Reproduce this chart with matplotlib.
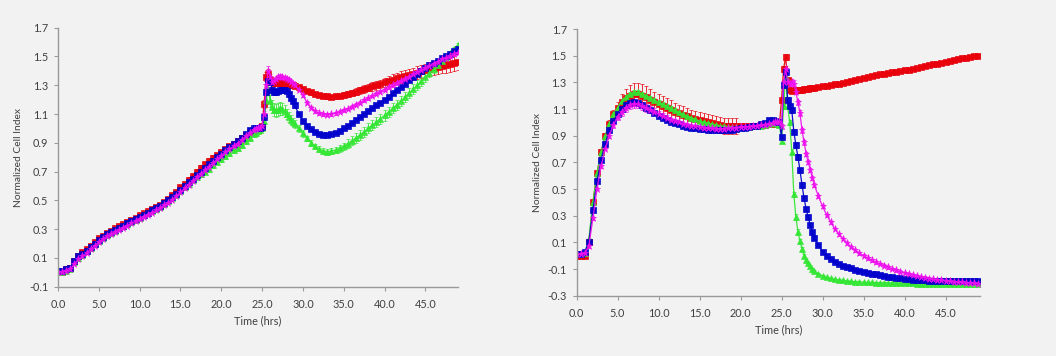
import numpy as np
import matplotlib
matplotlib.use("Agg")
import matplotlib.pyplot as plt
import matplotlib.ticker as ticker

plt.rcParams['font.family'] = ['Lato', 'DejaVu Sans']

# Sampling times (hrs): 0.5 h steps, 0.25 h around the compound addition
T = [0.0, 0.5, 1.0, 1.5, 2.0, 2.5, 3.0, 3.5, 4.0, 4.5,
     5.0, 5.5, 6.0, 6.5, 7.0, 7.5, 8.0, 8.5, 9.0, 9.5,
     10.0, 10.5, 11.0, 11.5, 12.0, 12.5, 13.0, 13.5, 14.0, 14.5,
     15.0, 15.5, 16.0, 16.5, 17.0, 17.5, 18.0, 18.5, 19.0, 19.5,
     20.0, 20.5, 21.0, 21.5, 22.0, 22.5, 23.0, 23.5, 24.0,
     24.25, 24.5, 24.75, 25.0, 25.25, 25.5, 25.75, 26.0, 26.25, 26.5,
     26.75, 27.0, 27.25, 27.5, 27.75, 28.0, 28.25, 28.5, 28.75, 29.0,
     29.5, 30.0, 30.5, 31.0, 31.5, 32.0, 32.5, 33.0, 33.5, 34.0, 34.5, 35.0,
     35.5, 36.0, 36.5, 37.0, 37.5, 38.0, 38.5, 39.0, 39.5, 40.0,
     40.5, 41.0, 41.5, 42.0, 42.5, 43.0, 43.5, 44.0, 44.5, 45.0,
     45.5, 46.0, 46.5, 47.0, 47.5, 48.0, 48.5, 49.0]

# ---- left panel ----
left_red = [0.0, 0.0, 0.02, 0.03, 0.08, 0.11, 0.14, 0.16, 0.185, 0.21,
            0.235, 0.255, 0.275, 0.29, 0.305, 0.32, 0.335, 0.35, 0.365, 0.38,
            0.395, 0.41, 0.425, 0.44, 0.455, 0.47, 0.49, 0.51, 0.535, 0.56,
            0.59, 0.615, 0.645, 0.67, 0.70, 0.725, 0.75, 0.775, 0.795, 0.815,
            0.835, 0.855, 0.875, 0.895, 0.915, 0.935, 0.955, 0.975, 0.99,
            0.99, 0.99, 1.0, 1.02, 1.17, 1.36, 1.38, 1.34, 1.32, 1.315,
            1.315, 1.315, 1.315, 1.315, 1.315, 1.31, 1.31, 1.305, 1.30, 1.295,
            1.285, 1.275, 1.26, 1.25, 1.24, 1.232, 1.226, 1.222, 1.22, 1.222, 1.226, 1.232,
            1.24, 1.248, 1.256, 1.265, 1.274, 1.283, 1.292, 1.30, 1.31, 1.32,
            1.33, 1.34, 1.348, 1.356, 1.364, 1.372, 1.38, 1.388, 1.396, 1.404,
            1.412, 1.42, 1.428, 1.436, 1.443, 1.45, 1.455, 1.46]
left_green = [0.0, 0.0, 0.01, 0.02, 0.07, 0.10, 0.12, 0.145, 0.17, 0.195,
              0.22, 0.24, 0.26, 0.275, 0.29, 0.305, 0.32, 0.335, 0.35, 0.365,
              0.38, 0.395, 0.41, 0.425, 0.44, 0.455, 0.475, 0.495, 0.515, 0.54,
              0.565, 0.59, 0.615, 0.64, 0.66, 0.68, 0.70, 0.72, 0.745, 0.77,
              0.79, 0.81, 0.83, 0.85, 0.865, 0.885, 0.91, 0.935, 0.96,
              0.97, 0.98, 0.99, 1.0, 1.05, 1.20, 1.27, 1.19, 1.15, 1.13,
              1.125, 1.13, 1.14, 1.135, 1.12, 1.10, 1.08, 1.06, 1.045, 1.03,
              1.0, 0.965, 0.93, 0.90, 0.875, 0.855, 0.842, 0.838, 0.842, 0.85, 0.862, 0.875,
              0.895, 0.915, 0.935, 0.955, 0.978, 1.0, 1.022, 1.045, 1.068, 1.09,
              1.115, 1.14, 1.165, 1.19, 1.218, 1.245, 1.272, 1.30, 1.328, 1.355,
              1.383, 1.41, 1.44, 1.47, 1.497, 1.525, 1.552, 1.58]
left_blue = [0.01, 0.01, 0.02, 0.03, 0.08, 0.11, 0.13, 0.15, 0.175, 0.20,
             0.225, 0.245, 0.265, 0.28, 0.295, 0.31, 0.325, 0.34, 0.355, 0.37,
             0.385, 0.40, 0.415, 0.43, 0.445, 0.46, 0.48, 0.50, 0.52, 0.545,
             0.57, 0.60, 0.625, 0.65, 0.675, 0.70, 0.725, 0.75, 0.775, 0.80,
             0.825, 0.85, 0.87, 0.89, 0.91, 0.935, 0.96, 0.99, 1.0,
             1.0, 1.0, 1.0, 1.01, 1.08, 1.25, 1.33, 1.32, 1.27, 1.25,
             1.25, 1.26, 1.265, 1.27, 1.27, 1.26, 1.24, 1.21, 1.19, 1.16,
             1.10, 1.05, 1.02, 0.995, 0.975, 0.962, 0.955, 0.955, 0.96, 0.97, 0.985, 1.0,
             1.02, 1.04, 1.06, 1.08, 1.10, 1.12, 1.14, 1.16, 1.18, 1.20,
             1.22, 1.245, 1.27, 1.29, 1.31, 1.335, 1.355, 1.38, 1.40, 1.42,
             1.44, 1.455, 1.47, 1.49, 1.505, 1.52, 1.535, 1.55]
left_magenta = [0.0, 0.0, 0.01, 0.02, 0.06, 0.09, 0.11, 0.135, 0.16, 0.185,
                0.21, 0.23, 0.25, 0.265, 0.28, 0.295, 0.31, 0.325, 0.34, 0.355,
                0.37, 0.385, 0.40, 0.415, 0.43, 0.445, 0.465, 0.485, 0.505, 0.53,
                0.555, 0.585, 0.61, 0.635, 0.66, 0.685, 0.71, 0.735, 0.76, 0.785,
                0.81, 0.835, 0.855, 0.875, 0.895, 0.92, 0.945, 0.97, 0.99,
                0.995, 1.0, 1.0, 1.02, 1.10, 1.30, 1.40, 1.36, 1.32, 1.33,
                1.345, 1.355, 1.36, 1.355, 1.35, 1.345, 1.335, 1.325, 1.31, 1.30,
                1.27, 1.23, 1.18, 1.145, 1.12, 1.105, 1.097, 1.095, 1.098, 1.105, 1.115, 1.125,
                1.135, 1.15, 1.165, 1.18, 1.195, 1.21, 1.225, 1.24, 1.255, 1.27,
                1.285, 1.30, 1.315, 1.33, 1.345, 1.36, 1.375, 1.39, 1.405, 1.42,
                1.435, 1.45, 1.465, 1.48, 1.49, 1.50, 1.515, 1.525]

left_red_err = [.01, .01, .01, .01, .01, .01, .01, .01, .01, .01,
                .01, .01, .01, .01, .01, .01, .01, .01, .01, .01,
                .01, .01, .01, .01, .01, .015, .015, .015, .015, .015,
                .015, .015, .015, .015, .015, .02, .02, .02, .02, .015,
                .01, .01, .01, .01, .01, .01, .01, .01, .01,
                .01, .01, .01, .01, .03, .03, .03, .02, .015, .015,
                .015, .015, .015, .015, .015, .015, .015, .015, .015, .015,
                .015, .015, .015, .015, .015, .015, .015, .015, .015, .015, .015, .02,
                .02, .02, .025, .025, .025, .025, .03, .03, .03, .03,
                .035, .035, .035, .04, .04, .04, .04, .045, .045, .045,
                .05, .05, .05, .05, .055, .055, .055, .055]
left_green_err = [.01, .01, .01, .01, .01, .01, .01, .01, .01, .01,
                  .01, .01, .01, .01, .01, .01, .01, .01, .01, .01,
                  .01, .01, .01, .01, .01, .01, .01, .01, .01, .01,
                  .01, .01, .01, .01, .01, .02, .02, .02, .02, .02,
                  .02, .02, .02, .02, .02, .02, .02, .02, .02,
                  .01, .01, .01, .01, .03, .03, .03, .04, .045, .045,
                  .045, .045, .045, .04, .04, .035, .035, .03, .03, .03,
                  .025, .025, .02, .02, .02, .02, .02, .02, .02, .02, .025, .025,
                  .03, .03, .035, .035, .035, .035, .035, .035, .035, .035,
                  .035, .035, .035, .035, .035, .035, .035, .035, .03, .03,
                  .025, .025, .02, .02, .015, .015, .015, .015]
left_blue_err = [.01, .01, .01, .01, .01, .01, .01, .01, .01, .01,
                 .01, .01, .01, .01, .01, .01, .01, .01, .01, .01,
                 .01, .01, .01, .01, .01, .01, .01, .01, .01, .01,
                 .01, .01, .01, .01, .01, .01, .01, .01, .01, .01,
                 .01, .01, .01, .01, .01, .01, .01, .01, .01,
                 .01, .01, .01, .01, .02, .02, .02, .02, .02, .015,
                 .015, .015, .015, .015, .015, .015, .015, .015, .015, .015,
                 .01, .01, .01, .01, .01, .01, .01, .01, .01, .01, .01, .01,
                 .01, .01, .01, .01, .01, .01, .01, .01, .01, .01,
                 .01, .01, .01, .01, .01, .01, .01, .01, .01, .01,
                 .01, .01, .01, .01, .01, .01, .01, .01]
left_magenta_err = [.01, .01, .01, .01, .01, .01, .01, .01, .01, .01,
                    .01, .01, .01, .01, .01, .01, .01, .01, .01, .01,
                    .01, .01, .01, .01, .01, .01, .01, .01, .01, .01,
                    .01, .01, .01, .01, .01, .01, .01, .01, .01, .01,
                    .01, .01, .01, .01, .01, .01, .01, .01, .01,
                    .01, .01, .01, .01, .02, .03, .035, .02, .02, .015,
                    .015, .015, .015, .015, .015, .015, .015, .015, .015, .015,
                    .01, .01, .01, .01, .01, .01, .01, .01, .01, .01, .01, .01,
                    .01, .01, .01, .01, .01, .01, .01, .01, .01, .01,
                    .01, .01, .01, .01, .01, .01, .01, .01, .01, .01,
                    .01, .01, .01, .01, .01, .01, .01, .01]

# ---- right panel ----
right_red = [0.0, 0.0, -0.005, 0.10, 0.40, 0.62, 0.78, 0.90, 0.99, 1.06,
             1.11, 1.15, 1.18, 1.20, 1.21, 1.21, 1.20, 1.19, 1.17, 1.155,
             1.14, 1.125, 1.11, 1.095, 1.08, 1.067, 1.055, 1.045, 1.035, 1.025,
             1.015, 1.007, 1.0, 0.992, 0.985, 0.98, 0.975, 0.975, 0.975, 0.975,
             0.97, 0.97, 0.97, 0.972, 0.975, 0.978, 0.98, 0.985, 0.99,
             0.99, 0.99, 0.99, 1.17, 1.40, 1.49, 1.32, 1.24, 1.235, 1.24,
             1.24, 1.242, 1.244, 1.246, 1.248, 1.25, 1.252, 1.255, 1.258, 1.26,
             1.265, 1.27, 1.275, 1.28, 1.285, 1.29, 1.297, 1.305, 1.312, 1.32, 1.327, 1.335,
             1.342, 1.35, 1.355, 1.36, 1.365, 1.37, 1.375, 1.38, 1.385, 1.39,
             1.395, 1.40, 1.408, 1.415, 1.422, 1.43, 1.435, 1.44, 1.448, 1.455,
             1.462, 1.47, 1.475, 1.48, 1.485, 1.49, 1.495, 1.50]
right_green = [0.01, 0.01, 0.02, 0.12, 0.40, 0.62, 0.78, 0.90, 0.99, 1.06,
               1.11, 1.16, 1.19, 1.215, 1.225, 1.225, 1.215, 1.20, 1.185, 1.165,
               1.15, 1.135, 1.12, 1.105, 1.09, 1.075, 1.06, 1.047, 1.035, 1.022,
               1.01, 1.002, 0.995, 0.987, 0.98, 0.975, 0.97, 0.967, 0.965, 0.963,
               0.963, 0.965, 0.967, 0.97, 0.972, 0.975, 0.98, 0.99, 0.995,
               0.995, 0.99, 0.98, 0.86, 1.12, 1.34, 1.12, 1.0, 0.78, 0.46,
               0.29, 0.18, 0.11, 0.05, 0.0, -0.03, -0.055, -0.08, -0.10, -0.115,
               -0.135, -0.152, -0.163, -0.171, -0.177, -0.182, -0.186, -0.19, -0.193, -0.195, -0.197, -0.199,
               -0.2, -0.201, -0.202, -0.203, -0.204, -0.205, -0.205, -0.206, -0.207, -0.207,
               -0.208, -0.208, -0.209, -0.209, -0.21, -0.21, -0.21, -0.211, -0.211, -0.211,
               -0.212, -0.212, -0.212, -0.213, -0.213, -0.213, -0.214, -0.214]
right_blue = [0.01, 0.01, 0.03, 0.10, 0.34, 0.56, 0.72, 0.84, 0.94, 1.01,
              1.06, 1.10, 1.13, 1.145, 1.15, 1.145, 1.13, 1.11, 1.09, 1.07,
              1.05, 1.035, 1.02, 1.005, 0.995, 0.985, 0.975, 0.967, 0.96, 0.955,
              0.95, 0.947, 0.945, 0.942, 0.94, 0.94, 0.94, 0.942, 0.945, 0.95,
              0.955, 0.96, 0.965, 0.97, 0.975, 0.985, 0.995, 1.02, 1.02,
              1.01, 1.005, 1.0, 0.89, 1.28, 1.38, 1.17, 1.12, 1.09, 0.93,
              0.83, 0.74, 0.64, 0.53, 0.43, 0.35, 0.29, 0.23, 0.175, 0.13,
              0.08, 0.03, 0.0, -0.025, -0.045, -0.06, -0.075, -0.085, -0.095, -0.105, -0.113, -0.12,
              -0.127, -0.134, -0.14, -0.146, -0.152, -0.158, -0.163, -0.167, -0.171, -0.174,
              -0.177, -0.18, -0.182, -0.184, -0.186, -0.187, -0.188, -0.189, -0.19, -0.19,
              -0.19, -0.191, -0.191, -0.192, -0.192, -0.192, -0.193, -0.193]
right_magenta = [0.01, 0.01, 0.02, 0.07, 0.28, 0.50, 0.67, 0.80, 0.90, 0.98,
                 1.04, 1.08, 1.11, 1.13, 1.14, 1.135, 1.125, 1.11, 1.095, 1.08,
                 1.065, 1.05, 1.035, 1.02, 1.01, 1.0, 0.99, 0.982, 0.975, 0.97,
                 0.965, 0.96, 0.957, 0.955, 0.953, 0.953, 0.953, 0.955, 0.957, 0.96,
                 0.962, 0.965, 0.968, 0.97, 0.973, 0.977, 0.98, 0.99, 0.995,
                 1.0, 1.0, 1.0, 0.97, 1.30, 1.40, 1.30, 1.29, 1.30, 1.29,
                 1.23, 1.15, 1.07, 0.94, 0.85, 0.765, 0.70, 0.645, 0.585, 0.53,
                 0.445, 0.37, 0.305, 0.25, 0.20, 0.16, 0.125, 0.092, 0.065, 0.04, 0.018, 0.0,
                 -0.02, -0.035, -0.05, -0.063, -0.076, -0.088, -0.1, -0.11, -0.12, -0.13,
                 -0.138, -0.146, -0.153, -0.16, -0.166, -0.172, -0.177, -0.182, -0.186, -0.19,
                 -0.193, -0.196, -0.199, -0.201, -0.203, -0.205, -0.207, -0.209]

right_red_err = [.01, .01, .01, .01, .01, .01, .02, .02, .03, .03,
                 .04, .06, .07, .08, .085, .085, .085, .08, .08, .075,
                 .075, .07, .07, .07, .065, .065, .065, .065, .06, .06,
                 .06, .06, .06, .06, .06, .06, .06, .06, .06, .06,
                 .01, .01, .01, .01, .01, .01, .01, .01, .01,
                 .01, .01, .01, .01, .02, .02, .02, .01, .01, .01,
                 .01, .01, .01, .01, .01, .01, .01, .01, .01, .01,
                 .01, .01, .01, .01, .01, .01, .01, .01, .01, .01, .01, .01,
                 .01, .01, .01, .01, .01, .01, .01, .01, .01, .01,
                 .01, .01, .01, .01, .01, .01, .01, .01, .01, .01,
                 .01, .01, .01, .01, .01, .01, .01, .01]
right_green_err = [.01, .01, .01, .01, .01, .01, .01, .01, .01, .01,
                   .015, .015, .015, .015, .015, .015, .015, .015, .015, .015,
                   .015, .015, .015, .015, .015, .01, .01, .01, .01, .01,
                   .01, .01, .01, .01, .01, .01, .01, .01, .01, .01,
                   .01, .01, .01, .01, .01, .01, .01, .01, .01,
                   .01, .01, .01, .015, .02, .02, .02, .02, .02, .02,
                   .02, .02, .015, .015, .01, .01, .01, .01, .01, .01,
                   .005, .005, .005, .005, .005, .005, .005, .005, .005, .005, .005, .005,
                   .005, .005, .005, .005, .005, .005, .005, .005, .005, .005,
                   .005, .005, .005, .005, .005, .005, .005, .005, .005, .005,
                   .005, .005, .005, .005, .005, .005, .005, .005]
right_blue_err = [.01, .01, .01, .01, .01, .01, .01, .01, .01, .01,
                  .01, .01, .01, .01, .01, .01, .01, .01, .01, .01,
                  .01, .01, .01, .01, .01, .01, .01, .01, .01, .01,
                  .01, .01, .01, .01, .01, .01, .01, .01, .01, .01,
                  .01, .01, .01, .01, .01, .01, .01, .01, .01,
                  .01, .01, .01, .015, .02, .02, .02, .02, .02, .02,
                  .02, .02, .02, .02, .02, .015, .015, .015, .015, .015,
                  .01, .01, .01, .01, .01, .01, .01, .01, .01, .01, .01, .01,
                  .01, .01, .01, .01, .01, .01, .01, .01, .01, .01,
                  .01, .01, .01, .01, .01, .01, .01, .01, .01, .01,
                  .01, .01, .01, .01, .01, .01, .01, .01]
right_magenta_err = [.01, .01, .01, .01, .01, .01, .01, .01, .02, .02,
                     .025, .03, .03, .03, .03, .03, .03, .03, .025, .025,
                     .02, .02, .02, .015, .015, .01, .01, .01, .01, .01,
                     .01, .01, .01, .01, .01, .01, .01, .01, .01, .01,
                     .01, .01, .01, .01, .01, .01, .01, .01, .01,
                     .01, .01, .01, .02, .02, .02, .025, .025, .025, .025,
                     .02, .02, .02, .02, .02, .015, .015, .015, .015, .015,
                     .01, .01, .01, .01, .01, .01, .01, .01, .01, .01, .01, .01,
                     .01, .01, .01, .01, .01, .01, .01, .01, .01, .01,
                     .01, .01, .01, .01, .01, .01, .01, .01, .01, .01,
                     .01, .01, .01, .01, .01, .01, .01, .01]

COLORS = {'red': '#e8000b', 'green': '#33e633', 'blue': '#0000cc', 'magenta': '#ee10ee'}
MARKERS = {'red': 's', 'green': '^', 'blue': 's', 'magenta': '*'}
TEXT = '#404040'
BG = '#f2f2f2'

left_series = [('red', left_red, left_red_err), ('green', left_green, left_green_err),
               ('blue', left_blue, left_blue_err), ('magenta', left_magenta, left_magenta_err)]
right_series = [('red', right_red, right_red_err), ('green', right_green, right_green_err),
                ('blue', right_blue, right_blue_err), ('magenta', right_magenta, right_magenta_err)]

for _, v, e in left_series + right_series:
    assert len(v) == len(T) and len(e) == len(T), (len(v), len(e))

fig = plt.figure(figsize=(10.56, 3.56), dpi=100, facecolor=BG)
W, H = 1056, 356

# axes placed in pixels
ax_l = fig.add_axes([58 / W, 1 - 286.7 / H, 400 / W, 259 / H])
ax_r = fig.add_axes([576.5 / W, 1 - 295.7 / H, 403.5 / W, 266.7 / H])


def draw_panel(ax, series, ylo, xhi):
    ax.set_facecolor(BG)
    for name, vals, errs in series:
        c = COLORS[name]
        ax.errorbar(T, vals, yerr=errs, color=c, ecolor=c, elinewidth=0.6, capsize=1.6,
                    capthick=0.6, lw=0.9, marker=MARKERS[name],
                    markersize=4.2 if name != 'magenta' else 5.2,
                    markeredgewidth=0.5, alpha=0.95)
    ax.set_xlim(0, xhi)
    ax.set_ylim(ylo, 1.7)
    ax.set_yticks(np.arange(ylo, 1.71, 0.2))
    ax.set_xticks(np.arange(0, 46, 5))
    ax.yaxis.set_major_formatter(ticker.FormatStrFormatter('%.1f'))
    ax.xaxis.set_major_formatter(ticker.FormatStrFormatter('%.1f'))
    for s in ['top', 'right']:
        ax.spines[s].set_visible(False)
    for s in ['left', 'bottom']:
        ax.spines[s].set_color('#9a9a9a')
        ax.spines[s].set_linewidth(1.0)
    ax.tick_params(axis='both', direction='out', length=3, width=0.8, color='#9a9a9a',
                   labelsize=7.8, labelcolor=TEXT)
    ax.tick_params(axis='y', pad=4)
    ax.tick_params(axis='x', pad=6)
    ax.set_xlabel('Time (hrs)', fontsize=7.8, color=TEXT, labelpad=4)
    ax.set_ylabel('Normalized Cell Index', fontsize=7.4, color=TEXT, labelpad=4)


draw_panel(ax_l, left_series, -0.1, 49)
draw_panel(ax_r, right_series, -0.3, 49.2)

fig.savefig('out.png', dpi=100, facecolor=BG)
